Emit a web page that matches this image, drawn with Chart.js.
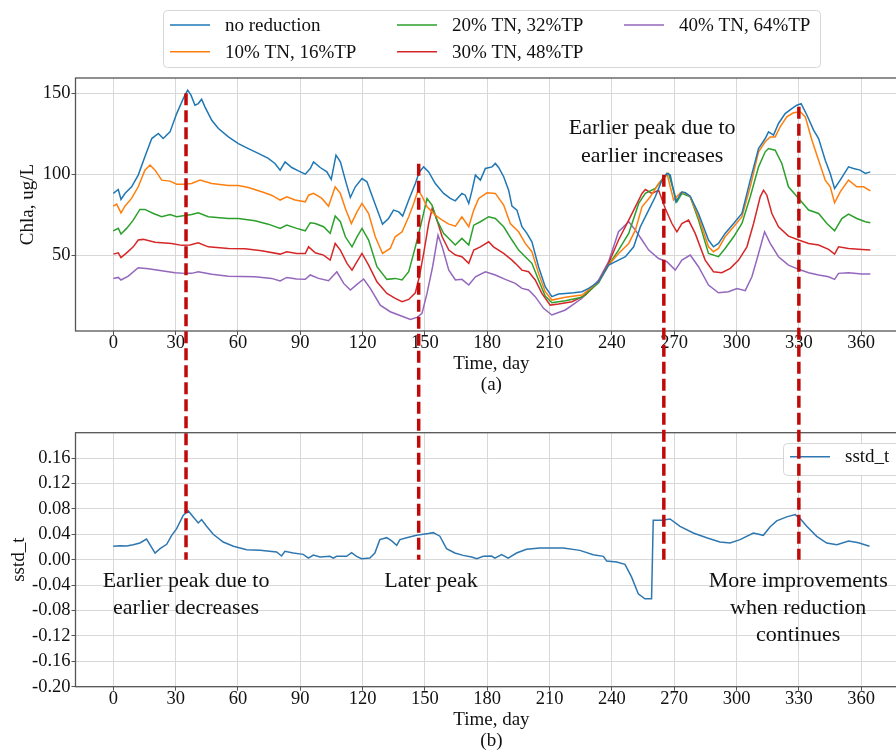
<!DOCTYPE html>
<html>
<head>
<meta charset="utf-8">
<script src="https://cdn.jsdelivr.net/npm/chart.js@4.4.1/dist/chart.umd.min.js"></script>
<style>
  html, body { margin: 0; padding: 0; background: #fff; overflow: hidden; width: 896px; height: 751px; }
  #wrap { position: relative; width: 896px; height: 751px; overflow: hidden; }
  #topChart { position: absolute; left: 0; top: 0; }
  #botChart { position: absolute; left: 0; top: 410px; }
  #overlay { position: absolute; left: 0; top: 0; pointer-events: none; }
</style>
</head>
<body>
<div id="wrap">
  <canvas id="topChart" width="920" height="410"></canvas>
  <canvas id="botChart" width="920" height="341"></canvas>
  <canvas id="overlay" width="896" height="751"></canvas>
</div>
<script>
// ---- Chla (ug/L) by day for each nutrient-reduction scenario: [day, value] ----
const noReduction = [[0,88.1],[2.4,90.5],[3.7,84.4],[5.6,88],[8.8,92.2],[12,99.4],[15.2,110.7],[18.5,122],[21.7,125.1],[24,122],[27.3,126.1],[30.5,137.4],[33.7,146.7],[35.8,151.9],[37.4,148.8],[39.3,142.6],[40.9,143.6],[42.5,146.3],[44.1,141.6],[47.4,133.3],[50.6,128.2],[55.4,123],[60.2,118.9],[65,115.8],[69.8,112.8],[74.6,109.7],[77.8,106.6],[80.3,102.5],[82.7,107.6],[85.9,104.1],[89.1,102],[92.4,100],[94.8,103.5],[96.4,107.6],[99.6,104.1],[102.8,101.4],[104.9,96.7],[107.2,111.7],[109.3,107.6],[111.7,96.3],[114.1,85.6],[116.5,92.2],[119.7,97.3],[122.1,95.3],[125.3,84],[129.6,69.1],[132.5,72.6],[134.9,77.8],[137.4,76.7],[139.3,74.1],[142.2,84],[145.4,94.2],[147.3,101.4],[149.4,104.5],[151.8,101.4],[155,94.2],[159,88.1],[162.2,85],[164.6,83.5],[167.8,88.1],[169.4,87],[171.1,81.9],[172.7,90.1],[174.3,99.4],[176.7,96.3],[179.1,103.5],[182.3,104.5],[183.9,106.6],[185.5,104.1],[187.9,98.4],[190.3,90.1],[191.9,80.2],[194.3,77.8],[196.7,67.5],[199.1,63.4],[201.5,58.2],[204.7,42.8],[207.9,30.5],[211.1,24.3],[214.3,25.9],[217.6,26.3],[221.6,26.7],[225.6,27.4],[228.8,29.4],[233.6,33.5],[238.4,43.8],[243.2,46.9],[246.5,49],[250.5,55.1],[253.7,67.5],[257.7,77.8],[260.9,86],[264.1,96.3],[266.5,100.4],[268.1,99.4],[270.8,82.9],[273.7,89.1],[275.3,88.5],[277.7,86.4],[281.7,75.7],[286.5,59.3],[288.9,55.1],[291.3,57.2],[294.5,63.4],[298.6,69.5],[302.6,75.7],[306.6,96.3],[310.6,115.8],[313.8,122],[315.4,126.1],[317.8,124.1],[320.2,131.3],[323.4,137.4],[326.6,140.5],[329,142.6],[331.1,143.6],[333.9,136.4],[337.1,127.2],[339.5,122],[342.7,108.6],[345.1,100.4],[347.2,91.2],[349.9,96.3],[353.9,104.5],[356.3,103.5],[359.5,102.5],[362,100.4],[364.4,101.4]];

const cut10 = [[0,80.2],[1.6,81.5],[3.7,76.1],[5.6,80.2],[8.8,85],[12,92.2],[15.2,102.5],[17.7,105.6],[20.1,102.5],[23.3,96.3],[27.3,95.7],[30.5,93.8],[34.5,93.8],[37.7,94.2],[41.7,96.3],[47.4,94.2],[55.4,93],[60.2,93],[65,91.8],[71.4,89.1],[76.2,87],[80.3,84],[83.5,86],[87.5,84],[92.4,82.9],[94,87],[96.4,88.1],[100.4,85],[103.6,80.2],[106.8,92.2],[109.3,88.1],[111.7,78.8],[114.6,69.5],[117.3,76.7],[119.7,81.9],[122.9,75.7],[126.1,61.3],[129.6,51],[133.3,54.1],[135.7,61.3],[139,64.4],[142.2,73.7],[144.6,81.9],[146.7,90.1],[148.6,86.4],[151,79.8],[155,74.7],[158.3,71.6],[161.5,69.1],[164.7,67.9],[167.8,73.7],[171.1,67.5],[173.5,77.8],[175.9,85],[179.9,88.5],[183.9,88.1],[187.9,80.9],[191.1,69.5],[195.1,64.4],[198.3,57.2],[201.5,52.1],[204.7,38.7],[207.9,27.4],[211.1,22.2],[217.6,23.9],[225.6,25.3],[233.6,33.5],[238.4,43.8],[243.2,51],[248.1,57.2],[251.3,65.4],[254.5,79.8],[258.5,86],[262.5,94.2],[266.5,100.4],[269.7,84],[273,88.5],[275.3,88.5],[277.7,86],[281.7,73.7],[286.5,55.1],[288.9,52.1],[291.3,54.1],[294.5,61.3],[298.6,67.5],[302.6,73.7],[306.6,92.2],[310.6,113.8],[313.8,120],[316.2,123],[318.6,123],[321,129.2],[324.2,135.4],[327.4,137.9],[330.7,138.5],[333.1,135.4],[336.3,121],[339.5,108.6],[342.7,96.3],[345.1,92.2],[347.2,82.3],[349.9,89.1],[353.9,96.3],[357.9,92.2],[361.2,92.2],[364.4,89.7]];

const cut20 = [[0,65],[2.4,66.5],[3.7,63],[6.4,66.5],[9.6,71.6],[12.8,78.2],[15.2,78.2],[19.3,75.7],[23.3,73.7],[27.3,75.1],[30.5,73.7],[34.5,74.5],[37.7,75.1],[40.9,76.1],[45.7,73.7],[55.4,72.6],[60.2,72.6],[68.2,71.2],[74.6,69.1],[80.3,66.5],[83.5,68.5],[88.3,66.5],[92.4,65],[94.8,70],[97.2,69.5],[101.2,67.5],[104.4,63.4],[106.8,74.1],[109.3,70.6],[111.7,61.3],[114.9,55.1],[117.3,61.3],[119.7,66.5],[122.9,59.3],[126.9,42.8],[131.7,35],[135.7,35.6],[139,34.6],[142.2,39.7],[145.4,55.1],[148.6,71.6],[151,85],[153.4,80.9],[155.8,71.6],[159,63.4],[162.2,59.3],[164.6,56.2],[167.8,60.3],[171.1,56.2],[173.5,68.5],[176.7,70.6],[180.7,73.7],[183.9,72.6],[187.9,67.5],[191.9,59.3],[195.1,53.1],[198.3,49],[201.5,44.9],[204.7,34.6],[207.9,24.7],[211.1,20.6],[217.6,21.8],[225.6,23.9],[233.6,32.9],[238.4,43.8],[243.2,53.1],[248.1,63.4],[252.9,81.9],[256.1,88.1],[260.9,91.2],[264.1,96.7],[267.3,100.4],[271.3,82.9],[273.7,88.1],[277.7,86],[281.7,71.6],[286.5,51],[291.3,49],[294.5,54.1],[298.6,61.3],[302.6,69.5],[306.6,86],[310.6,104.5],[313.8,113.8],[315.4,115.8],[318.6,114.8],[321.8,106.6],[325,92.2],[329.9,85],[334.7,77.8],[339.5,75.7],[343.5,69.5],[347.2,65],[350.7,72.6],[353.9,75.3],[357.9,72.6],[362,70.6],[364.4,70]];

const cut30 = [[0,50.6],[2.4,51.4],[3.7,48.4],[6.4,51.4],[9.6,55.1],[12,59.3],[14.4,59.7],[20.1,58],[28.1,57.2],[32.9,56],[36.9,56.2],[40.9,57.6],[45.7,55.1],[55.4,54.1],[63.4,53.9],[71.4,52.7],[80.3,50.6],[83.5,52],[88.3,51],[92.4,51],[94,55.1],[97.2,51.4],[101.2,50],[104.4,46.9],[106.8,57.2],[109.3,53.1],[112.5,44.9],[114.9,40.7],[117.3,45.9],[119.7,51],[122.9,43.8],[126.9,33.5],[131.7,26.3],[135.7,23.3],[139,21.2],[142.2,22.6],[145.4,26.7],[147.3,36.6],[149.4,51],[151.8,69.5],[153.6,79.4],[155.8,71.6],[158.3,61.3],[161.5,53.1],[164.7,50],[167.8,49],[171.1,44.9],[173.5,53.1],[176.7,55.1],[180.7,58.2],[183,55.1],[187.9,51],[191.9,46.9],[193.5,44.9],[196.7,40.7],[199.9,39.7],[203.1,34.6],[206.3,26.3],[210.3,19.1],[214.3,19.8],[220.8,21.2],[227.2,25.3],[233.6,33.5],[238.4,44.9],[243.2,59.3],[248.1,71.6],[251.3,79.8],[254.5,88.1],[256.1,90.5],[259.3,88.1],[262.5,90.1],[265.7,78.8],[268.9,69.5],[271.3,64.4],[273.7,69.5],[276.9,71.6],[280.1,63.4],[284.9,46.9],[288.9,39.7],[292.9,39.1],[297,41.8],[301,46.9],[305,55.1],[308.2,69.5],[311.4,86],[313,90.1],[314.6,87],[317,75.7],[320.2,67.5],[325,61.7],[329.9,59.3],[334.7,57.2],[339.5,56.2],[344.3,53.5],[347.2,50.6],[349.1,55.1],[353.9,54.1],[360.4,53.5],[364.4,53.1]];

const cut40 = [[0,35.6],[2.4,36.2],[3.7,34.6],[7.2,37],[12,42.2],[16.9,41.6],[23.3,40.3],[29.7,39.1],[34.5,38.7],[37.7,38.7],[40.9,39.7],[47.4,38.1],[55.4,37],[68.2,36.6],[76.2,35.6],[80.3,34],[83.5,36.2],[88.3,35.2],[92.4,35],[94.8,37.7],[98.8,35.6],[103.6,34.2],[107.6,39.7],[110.9,32.5],[114.1,28.4],[117.3,31.9],[120.5,35.2],[123.7,29.4],[128.5,19.1],[133.3,15],[137.4,13],[143,10.3],[146.2,11.5],[148.6,14],[151,26.3],[153.7,42.8],[156.3,62.3],[158.3,55.1],[161.5,40.7],[164.7,34.6],[167.8,35],[171.1,31.5],[174.3,36.6],[179.1,39.7],[183.9,37.7],[188.7,35],[193.5,32.5],[196.7,29.4],[199.9,28.4],[203.1,24.3],[207.1,17.1],[211.1,13],[217.6,16.1],[225.6,23.3],[233.6,34.6],[238.4,45.9],[243.2,64.4],[248.1,70.6],[251.3,65.4],[254.5,59.3],[257.7,53.1],[262.5,47.9],[266.5,45.9],[270.5,40.7],[273.7,46.9],[277.7,50],[281.7,42.8],[286.5,31.5],[291.3,26.7],[296.1,27.4],[300.2,29.4],[304.2,28],[307.4,36.6],[310.6,51],[313.5,64.4],[316.2,57.2],[320.2,49],[325,43.8],[329.9,41.2],[334.7,39.1],[339.5,37.7],[344.3,36.6],[347.2,35],[349.1,38.7],[353.9,39.1],[360.4,38.3],[364.4,38.3]];

// ---- sstd_t by day ----
const sstdT = [[0,0.021],[3.2,0.022],[6.4,0.0216],[9.6,0.0237],[12.8,0.0263],[16,0.0326],[20.1,0.0105],[22.5,0.0174],[25.7,0.0242],[28.1,0.0384],[30.5,0.0489],[33.7,0.07],[36.1,0.0768],[38.5,0.0674],[40.9,0.0579],[42.5,0.0632],[44.9,0.0526],[48.1,0.04],[52.9,0.0279],[57.8,0.0211],[64.2,0.0158],[70.6,0.0147],[78.6,0.0121],[81,0.0058],[82.6,0.0132],[86.6,0.0105],[91.4,0.0084],[93.9,0.0026],[96.3,0.0074],[99.5,0.0042],[104.3,0.0053],[105.9,0.0026],[107.5,0.0053],[112.3,0.0053],[114.7,0.0111],[117.1,0.0053],[119.5,0.0016],[123.5,0.0026],[125.9,0.0105],[128.3,0.0316],[131.6,0.0347],[134,0.0295],[136.4,0.0226],[138,0.0316],[141.2,0.0347],[146,0.0384],[149.2,0.04],[151.6,0.0411],[154,0.0426],[157.2,0.037],[160.4,0.0174],[164.4,0.0105],[168.4,0.0068],[172.5,0.0042],[174.9,0.0016],[178.1,0.0053],[182.1,0.0058],[183.7,0.0026],[186.9,0.0079],[190.1,0.0026],[194.1,0.0105],[198.9,0.0163],[205.4,0.0184],[216.6,0.0184],[224.6,0.0147],[231,0.0079],[235.9,0.0053],[237.5,-0.0021],[242.3,-0.0037],[246.3,-0.0074],[249.5,-0.0274],[252.7,-0.0537],[255.9,-0.0616],[259.1,-0.0616],[259.9,0.0621],[263.9,0.0621],[268,0.0642],[272.8,0.0526],[279.2,0.0421],[285.6,0.0347],[292,0.0279],[296.9,0.0263],[301.7,0.0316],[308.1,0.0421],[312.9,0.0384],[316.1,0.0516],[319.3,0.0611],[324.2,0.0674],[328.2,0.0711],[330.6,0.0647],[333.8,0.0526],[338.6,0.0368],[343.4,0.0263],[348.3,0.0237],[353.9,0.0295],[358.7,0.0268],[364,0.0211]];

// ---- ticks, labels, markers ----
const dayTicks = [0, 30, 60, 90, 120, 150, 180, 210, 240, 270, 300, 330, 360];
const chlaTicks = [50, 100, 150];
const sstdTicks = [-0.20, -0.16, -0.12, -0.08, -0.04, 0.00, 0.04, 0.08, 0.12, 0.16];
const scenarioLabels = ['no reduction', '10% TN, 16%TP', '20% TN, 32%TP', '30% TN, 48%TP', '40% TN, 64%TP'];
const scenarioColors = ['#1f77b4', '#ff7f0e', '#2ca02c', '#d62728', '#9467bd'];
const markerDays = [35, 147, 265, 330];      // dashed reference lines
const markerTops = [150, 106.5, 99.6, 141.7]; // Chla value where each line starts
const topNotes = [{ day: 259.4, value: 128.4, lines: ['Earlier peak due to', 'earlier increases'] }];
const botNotes = [
  { day: 35, value: -0.0343, lines: ['Earlier peak due to', 'earlier decreases'] },
  { day: 152.9, value: -0.0343, lines: ['Later peak'] },
  { day: 329.7, value: -0.0343, lines: ['More improvements', 'when reduction', 'continues'] }
];

const SERIF = "'Liberation Serif', 'Times New Roman', serif";
const toXY = arr => arr.map(([x, y]) => ({ x, y }));
const series = [noReduction, cut10, cut20, cut30, cut40];

// frame around the plotting area
const framePlugin = {
  id: 'frame',
  afterDatasetsDraw(chart) {
    const { ctx, chartArea: a } = chart;
    ctx.save();
    ctx.strokeStyle = '#555';
    ctx.lineWidth = 1.3;
    ctx.strokeRect(a.left, a.top, a.right - a.left, a.bottom - a.top);
    ctx.restore();
  }
};

// centred multi-line text anchored in data coordinates
function notesPlugin(notes, spacing) {
  return {
    id: 'notes',
    afterDraw(chart) {
      const { ctx, scales } = chart;
      ctx.save();
      ctx.fillStyle = '#111';
      ctx.font = `22px ${SERIF}`;
      ctx.textAlign = 'center';
      ctx.textBaseline = 'middle';
      notes.forEach(n => {
        const x = scales.x.getPixelForValue(n.day);
        const y = scales.y.getPixelForValue(n.value);
        n.lines.forEach((t, i) => ctx.fillText(t, x, y + i * spacing));
      });
      ctx.restore();
    }
  };
}

// three-column legend box above the Chla panel (column-major order)
const scenarioLegend = {
  id: 'scenarioLegend',
  afterDraw(chart) {
    const { ctx } = chart;
    const ds = chart.data.datasets;
    ctx.save();
    ctx.fillStyle = 'rgba(255,255,255,0.9)';
    ctx.strokeStyle = '#d6d6d6';
    ctx.lineWidth = 1;
    ctx.beginPath();
    ctx.roundRect(163.5, 10.5, 657, 57, 4);
    ctx.fill();
    ctx.stroke();
    const cols = [170, 397, 624];
    const rows = [25, 51.7];
    ctx.font = `19px ${SERIF}`;
    ctx.textBaseline = 'middle';
    ds.forEach((d, i) => {
      const cx = cols[Math.floor(i / 2)];
      const cy = rows[i % 2];
      ctx.strokeStyle = d.borderColor;
      ctx.lineWidth = 1.5;
      ctx.beginPath();
      ctx.moveTo(cx, cy);
      ctx.lineTo(cx + 40, cy);
      ctx.stroke();
      ctx.fillStyle = '#111';
      ctx.fillText(d.label, cx + 55, cy + 1);
    });
    ctx.restore();
  }
};

const sstdLegend = {
  id: 'sstdLegend',
  afterDraw(chart) {
    const { ctx } = chart;
    const d = chart.data.datasets[0];
    ctx.save();
    ctx.fillStyle = 'rgba(255,255,255,0.9)';
    ctx.strokeStyle = '#d6d6d6';
    ctx.lineWidth = 1;
    ctx.beginPath();
    ctx.roundRect(783.5, 33.5, 130, 32, 4);
    ctx.fill();
    ctx.stroke();
    ctx.strokeStyle = d.borderColor;
    ctx.lineWidth = 1.5;
    ctx.beginPath();
    ctx.moveTo(790, 46.7);
    ctx.lineTo(830, 46.7);
    ctx.stroke();
    ctx.fillStyle = '#111';
    ctx.font = `19px ${SERIF}`;
    ctx.textBaseline = 'middle';
    ctx.fillText(d.label, 845, 47.5);
    ctx.restore();
  }
};

function xScale(titleLines, axisHeight, titleBottom) {
  return {
    type: 'linear',
    min: -18.2,
    max: 382.2,
    afterBuildTicks: s => { s.ticks = dayTicks.map(v => ({ value: v })); },
    afterFit: s => { s.height = axisHeight; },
    ticks: { color: '#111', font: { family: SERIF, size: 18.5, lineHeight: 1.0 }, padding: -1, maxRotation: 0, autoSkip: false },
    grid: { color: '#d8d8d8', lineWidth: 1, tickColor: '#555', tickLength: 4 },
    border: { display: false },
    title: { display: true, text: titleLines, color: '#111', font: { family: SERIF, size: 19, lineHeight: 1.1 }, padding: { top: 0, bottom: titleBottom } }
  };
}

function yScale(min, max, ticks, fmt, title, titlePad) {
  return {
    type: 'linear',
    min, max,
    afterBuildTicks: s => { s.ticks = ticks.map(v => ({ value: v })); },
    afterFit: s => { s.width = 75.5; },
    ticks: { color: '#111', font: { family: SERIF, size: 18.5 }, padding: 1, callback: fmt },
    grid: { color: '#d8d8d8', lineWidth: 1, tickColor: '#555', tickLength: 4 },
    border: { display: false },
    title: { display: true, text: title, color: '#111', font: { family: SERIF, size: 19, lineHeight: 1.2 }, padding: { top: titlePad, bottom: 0 } }
  };
}

const common = {
  responsive: false,
  animation: false,
  events: [],
  plugins: { legend: { display: false }, tooltip: { enabled: false } },
  elements: { point: { radius: 0 }, line: { borderWidth: 1.5, tension: 0 } }
};

const topChart = new Chart(document.getElementById('topChart'), {
  type: 'line',
  data: {
    datasets: series.map((s, i) => ({
      label: scenarioLabels[i],
      data: toXY(s),
      borderColor: scenarioColors[i],
      backgroundColor: scenarioColors[i],
      fill: false
    }))
  },
  options: Object.assign({}, common, {
    layout: { padding: { left: 0, right: 12.7, top: 78, bottom: 0 } },
    scales: {
      x: xScale(['Time, day', '(a)'], 79, 14.6),
      y: yScale(3.1, 159.4, chlaTicks, v => String(v), 'Chla, ug/L', 17)
    }
  }),
  plugins: [framePlugin, scenarioLegend, notesPlugin(topNotes, 28)]
});

const botChart = new Chart(document.getElementById('botChart'), {
  type: 'line',
  data: {
    datasets: [{ label: 'sstd_t', data: toXY(sstdT), borderColor: '#2f77b0', backgroundColor: '#2f77b0', fill: false }]
  },
  options: Object.assign({}, common, {
    layout: { padding: { left: 0, right: 12.7, top: 22.7, bottom: 0 } },
    scales: {
      x: xScale(['Time, day', '(b)'], 64.3, 0),
      y: yScale(-0.2, 0.2, sstdTicks, v => v.toFixed(2), 'sstd_t', 7.6)
    }
  }),
  plugins: [framePlugin, sstdLegend, notesPlugin(botNotes, 27)]
});

// dashed reference lines spanning both panels
(function drawMarkers() {
  const ov = document.getElementById('overlay');
  const ctx = ov.getContext('2d');
  const botTop = 410;
  ctx.save();
  ctx.strokeStyle = '#c00a0a';
  ctx.lineWidth = 3.5;
  ctx.setLineDash([12, 5]);
  markerDays.forEach((d, i) => {
    const x = topChart.scales.x.getPixelForValue(d);
    const y0 = topChart.scales.y.getPixelForValue(markerTops[i]);
    const y1 = botTop + botChart.scales.y.getPixelForValue(0);
    ctx.beginPath();
    ctx.moveTo(x, y0);
    ctx.lineTo(x, y1);
    ctx.stroke();
  });
  ctx.restore();
})();
</script>
</body>
</html>
